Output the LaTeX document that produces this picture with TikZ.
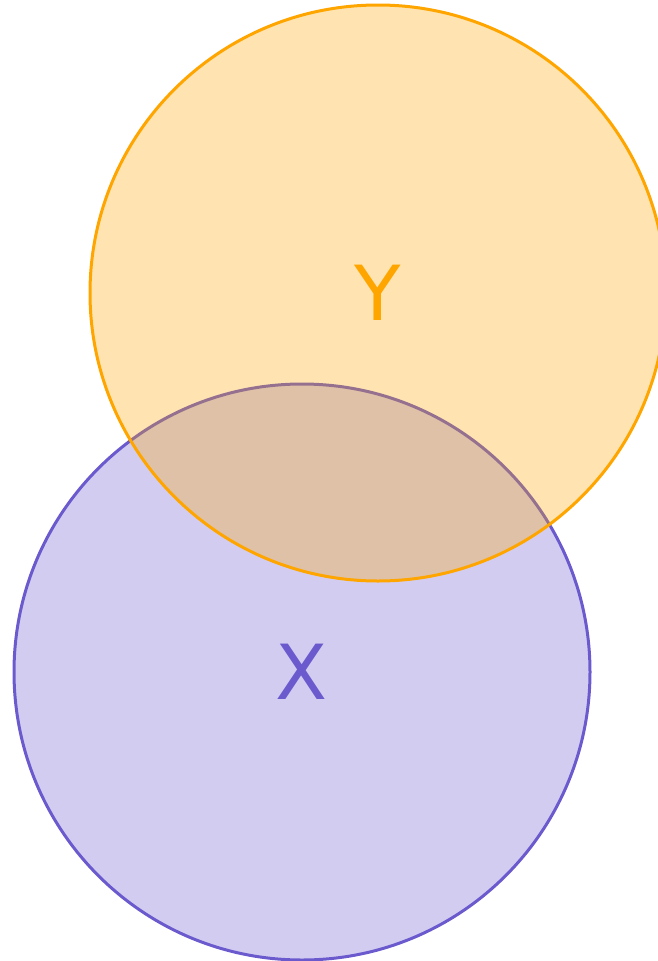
\documentclass[tikz,border=0pt]{standalone}
\usepackage{fontspec}
\setmainfont{DejaVu Sans}
\definecolor{ycol}{RGB}{255,165,0}
\definecolor{xcol}{RGB}{106,90,205}
\begin{document}
\begin{tikzpicture}[x=1pt,y=1pt,
  setcircle/.style={circle, minimum size=576pt, inner sep=0pt, line width=3pt, fill opacity=0.3, text opacity=1},
  setlabel/.style={font=\fontsize{76}{76}\selectfont, inner sep=0pt}]
\useasboundingbox (0,0) rectangle (658,-961);
\clip (0,0) rectangle (658,-961);
\node[setcircle, draw=xcol, fill=xcol] (X) at (302,-672) {};
\node[setcircle, draw=ycol, fill=ycol] (Y) at (378,-293) {};
\node[setlabel, text=xcol] (Xl) at (X.center) {X};
\node[setlabel, text=ycol] (Yl) at (Y.center) {Y};
\end{tikzpicture}
\end{document}
